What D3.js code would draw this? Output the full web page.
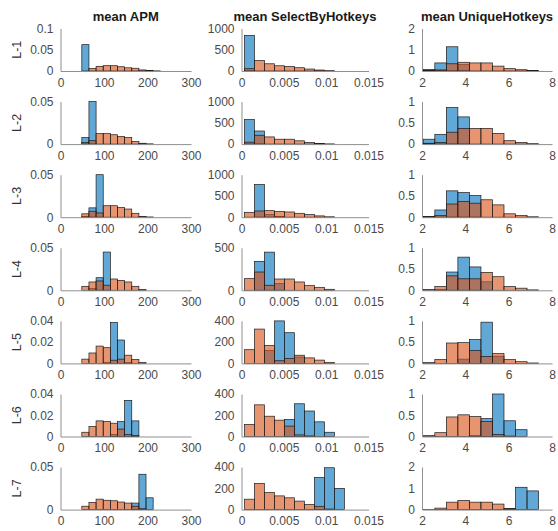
<!DOCTYPE html>
<html>
<head>
<meta charset="utf-8">
<script src="https://cdn.jsdelivr.net/npm/d3@7"></script>
<style>
  html, body { margin: 0; padding: 0; background: #fff; }
  svg { display: block; }
</style>
</head>
<body>
<svg id="chart" width="558" height="531"></svg>
<script>
// ---- data -------------------------------------------------------------
const rowLabels = ["L-1", "L-2", "L-3", "L-4", "L-5", "L-6", "L-7"];
const colTitles = ["mean APM", "mean SelectByHotkeys", "mean UniqueHotkeys"];

// bin edges per measure
const apmEdges = [49, 65.4, 81.8, 98.2, 114.6, 131, 147.4, 163.8, 180.2, 196.6, 213, 229.4, 245.8];
const selectEdges = [0.00035, 0.00153, 0.00271, 0.00389, 0.00507, 0.00625, 0.00743, 0.00861, 0.00979, 0.01097, 0.01215, 0.01333];
const uniqueEdges = [2.06, 2.592, 3.124, 3.656, 4.188, 4.72, 5.252, 5.784, 6.316, 6.848, 7.38, 7.912];

// x ticks per measure
const apmXTicks = [0, 100, 200, 300];
const selectXTicks = [0, 0.005, 0.01, 0.015];
const uniqueXTicks = [2, 4, 6, 8];

// y ticks per row
const apmYTicks = [[0, 0.05, 0.1], [0, 0.05], [0, 0.05], [0, 0.05], [0, 0.02, 0.04], [0, 0.02, 0.04], [0, 0.05]];
const selectYTicks = [[0, 500, 1000], [0, 500, 1000], [0, 500, 1000], [0, 500], [0, 200, 400], [0, 200, 400], [0, 200, 400]];
const uniqueYTicks = [[0, 1, 2], [0, 0.5, 1], [0, 0.5, 1], [0, 0.5, 1], [0, 0.5, 1], [0, 0.5, 1], [0, 1, 2]];

// density per bin, group A (blue)
const apmBlue = [
  [0.062, 0, 0, 0, 0, 0, 0, 0, 0, 0, 0, 0],
  [0.0077, 0.050, 0, 0, 0, 0, 0, 0, 0, 0, 0, 0],
  [0.001, 0.011, 0.050, 0, 0, 0, 0, 0, 0, 0, 0, 0],
  [0, 0.002, 0.0148, 0.045, 0, 0, 0, 0, 0, 0, 0, 0],
  [0, 0, 0, 0.001, 0.0385, 0.022, 0.001, 0, 0, 0, 0, 0],
  [0, 0, 0, 0, 0.002, 0.014, 0.034, 0.0147, 0, 0, 0, 0],
  [0, 0, 0, 0, 0, 0, 0, 0.0077, 0.0416, 0.0139, 0, 0]
];
// density per bin, group B (orange)
const apmOrange = [
  [0, 0.006, 0.011, 0.0125, 0.0125, 0.010, 0.0075, 0.0065, 0.0025, 0.001, 0.0003, 0],
  [0.002, 0.004, 0.0123, 0.0123, 0.011, 0.009, 0.0077, 0.003, 0.001, 0.0003, 0, 0],
  [0.004, 0.007, 0.005, 0.0135, 0.0135, 0.0115, 0.0096, 0.0046, 0.001, 0.0003, 0, 0],
  [0.0047, 0.0098, 0.011, 0.006, 0.0133, 0.0117, 0.0098, 0.0047, 0.001, 0, 0, 0],
  [0.004, 0.0098, 0.0163, 0.0148, 0.003, 0.004, 0.0077, 0.0037, 0.001, 0, 0, 0],
  [0.004, 0.0094, 0.0147, 0.014, 0.0125, 0.007, 0.002, 0.001, 0, 0, 0, 0],
  [0.004, 0.0085, 0.0123, 0.011, 0.0104, 0.0089, 0.0077, 0.004, 0.001, 0, 0, 0]
];

const selectBlue = [
  [838, 0, 0, 0, 0, 0, 0, 0, 0, 0, 0],
  [577, 308, 0, 0, 0, 0, 0, 0, 0, 0, 0],
  [0, 769, 60, 20, 0, 0, 0, 0, 0, 0, 0],
  [0, 340, 449, 78, 0, 0, 0, 0, 0, 0, 0],
  [0, 0, 123, 400, 289, 60, 0, 0, 0, 0, 0],
  [0, 0, 0, 0, 160, 308, 240, 138, 40, 0, 0],
  [0, 0, 0, 0, 0, 0, 0, 302, 394, 200, 0]
];
const selectOrange = [
  [54, 246, 170, 123, 108, 77, 46, 23, 8, 0, 0],
  [46, 208, 169, 115, 115, 77, 38, 15, 5, 0, 0],
  [115, 146, 154, 138, 123, 92, 62, 31, 10, 0, 0],
  [137, 215, 59, 133, 133, 98, 55, 35, 12, 0, 0],
  [129, 323, 169, 25, 46, 77, 52, 31, 10, 0, 0],
  [114, 298, 191, 154, 98, 15, 5, 0, 0, 0, 0],
  [98, 246, 160, 129, 111, 80, 49, 31, 5, 0, 0]
];

const uniqueBlue = [
  [0.07, 0.38, 1.14, 0.3, 0, 0, 0, 0, 0, 0, 0],
  [0.115, 0.23, 0.86, 0.64, 0, 0, 0, 0, 0, 0, 0],
  [0.02, 0.17, 0.62, 0.58, 0.51, 0, 0, 0, 0, 0, 0],
  [0, 0.02, 0.43, 0.78, 0.55, 0.2, 0, 0, 0, 0, 0],
  [0, 0, 0, 0.1, 0.56, 0.97, 0.17, 0, 0, 0, 0],
  [0, 0, 0, 0, 0.02, 0.42, 1.0, 0.37, 0.16, 0, 0],
  [0, 0, 0, 0, 0, 0, 0, 0.05, 1.05, 0.88, 0]
];
const uniqueOrange = [
  [0.02, 0.05, 0.34, 0.41, 0.38, 0.38, 0.23, 0.11, 0.06, 0.02, 0],
  [0.02, 0.04, 0.28, 0.37, 0.37, 0.37, 0.25, 0.08, 0.04, 0.01, 0],
  [0.02, 0.04, 0.31, 0.37, 0.33, 0.41, 0.29, 0.08, 0.04, 0.01, 0],
  [0.02, 0.09, 0.34, 0.27, 0.27, 0.42, 0.32, 0.09, 0.05, 0.01, 0],
  [0.02, 0.09, 0.48, 0.49, 0.30, 0.16, 0.23, 0.09, 0.04, 0.01, 0],
  [0.02, 0.09, 0.46, 0.51, 0.47, 0.35, 0.05, 0.01, 0, 0, 0],
  [0.01, 0.07, 0.35, 0.43, 0.35, 0.35, 0.26, 0.05, 0, 0, 0]
];

// ---- panel setup ------------------------------------------------------
const columns = [
  { title: colTitles[0], edges: apmEdges, xTicks: apmXTicks, yTicks: apmYTicks, blue: apmBlue, orange: apmOrange },
  { title: colTitles[1], edges: selectEdges, xTicks: selectXTicks, yTicks: selectYTicks, blue: selectBlue, orange: selectOrange },
  { title: colTitles[2], edges: uniqueEdges, xTicks: uniqueXTicks, yTicks: uniqueYTicks, blue: uniqueBlue, orange: uniqueOrange }
];

const colLeft = [60.5, 241.5, 422];
const colRight = [191, 368.5, 552];
const rowTop0 = 28.5, rowStep = 73.1, rowH = 42.5;

const FONT = "'Liberation Sans', Arial, Helvetica, sans-serif";
const blueFill = "#0072BD", orangeFill = "#D95319";
const fillOpacity = 0.62;
const axisColor = "#8f8f8f";
const textColor = "#4a4a4a";
const fmt = d3.format("~g");

const svg = d3.select("#chart");

columns.forEach((col, ci) => {
  const x = d3.scaleLinear()
    .domain([col.xTicks[0], col.xTicks[col.xTicks.length - 1]])
    .range([colLeft[ci], colRight[ci]]);

  // column title
  svg.append("text")
    .attr("x", (colLeft[ci] + colRight[ci]) / 2)
    .attr("y", 21)
    .attr("text-anchor", "middle")
    .style("font-family", FONT)
    .style("font-size", "13px")
    .style("font-weight", "bold")
    .style("fill", "#1a1a1a")
    .text(col.title);

  rowLabels.forEach((lab, ri) => {
    const top = rowTop0 + ri * rowStep;
    const base = top + rowH;
    const yt = col.yTicks[ri];
    const y = d3.scaleLinear().domain([0, yt[yt.length - 1]]).range([base, top]);

    const g = svg.append("g");

    const bins = (vals) => vals
      .map((v, i) => ({ x0: col.edges[i], x1: col.edges[i + 1], v }))
      .filter(d => d.v > 0);

    [[col.blue[ri], blueFill], [col.orange[ri], orangeFill]].forEach(([vals, color]) => {
      g.append("g").selectAll("rect")
        .data(bins(vals))
        .join("rect")
        .attr("x", d => x(d.x0))
        .attr("width", d => x(d.x1) - x(d.x0))
        .attr("y", d => y(d.v))
        .attr("height", d => base - y(d.v))
        .attr("fill", color)
        .attr("fill-opacity", fillOpacity)
        .attr("stroke", "#1c1c1c")
        .attr("stroke-width", 0.7);
    });

    // axes
    const xAxis = d3.axisBottom(x)
      .tickValues(col.xTicks)
      .tickFormat(fmt)
      .tickSizeInner(0).tickSizeOuter(0).tickPadding(7);
    const yAxis = d3.axisLeft(y)
      .tickValues(yt)
      .tickFormat(fmt)
      .tickSizeInner(0).tickSizeOuter(0).tickPadding(7);

    const gx = svg.append("g").attr("transform", `translate(0,${base})`).call(xAxis);
    const gy = svg.append("g").attr("transform", `translate(${colLeft[ci]},0)`).call(yAxis);
    [gx, gy].forEach(a => {
      a.select(".domain").attr("stroke", axisColor).attr("stroke-width", 1);
      a.selectAll("text")
        .style("font-family", FONT)
        .style("font-size", "12px")
        .style("fill", textColor);
    });

    // row label
    if (ci === 0) {
      svg.append("text")
        .attr("transform", `translate(20.5,${(top + base) / 2}) rotate(-90)`)
        .attr("text-anchor", "middle")
        .style("font-family", FONT)
        .style("font-size", "12.5px")
        .style("fill", "#333")
        .text(lab);
    }
  });
});
</script>
</body>
</html>
